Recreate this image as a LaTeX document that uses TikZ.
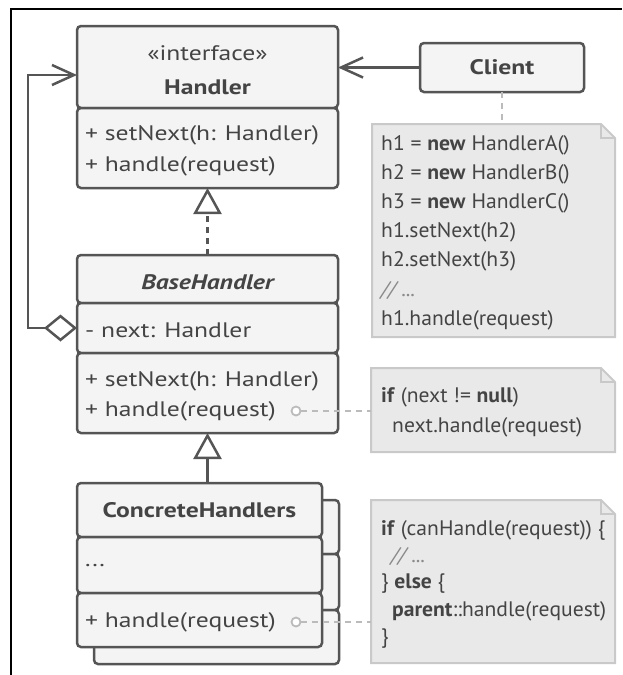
\documentclass[tikz,border=0pt]{standalone}
\usepackage{fontspec}
\setmainfont{PT Sans}[FakeStretch=1.22]
\newfontfamily\notefont[FakeStretch=1.03]{PT Sans}
\usetikzlibrary{arrows.meta}
\definecolor{ink}{HTML}{444444}
\definecolor{edge}{HTML}{555555}
\definecolor{boxfill}{HTML}{F4F4F4}
\definecolor{notefill}{HTML}{E9E9E9}
\definecolor{noteedge}{HTML}{C9C9C9}
\definecolor{dashc}{HTML}{BBBBBB}
\definecolor{commentc}{HTML}{8A8A8A}
\begin{document}
\begin{tikzpicture}[x=1pt,y=-1pt,
  comp/.style={draw=edge, fill=boxfill, line width=2.5pt, rounded corners=4pt,
    anchor=north west, inner sep=0pt, outer sep=0pt},
  lbl/.style={text=ink, inner sep=0pt, font=\fontsize{21}{25}\selectfont},
  lblb/.style={text=ink, inner sep=0pt, font=\fontsize{21}{25}\selectfont\bfseries},
  lbli/.style={text=ink, inner sep=0pt, font=\fontsize{21}{25}\selectfont\bfseries\itshape},
  notetxt/.style={text=ink, inner sep=0pt, anchor=west, font=\notefont\fontsize{21}{25}\selectfont},
  notebox/.style={draw=none, anchor=north west, inner sep=0pt, outer sep=0pt},
  noteshape/.style={draw=noteedge, fill=notefill, line width=2pt},
  link/.style={draw=edge, line width=2.5pt},
  realize/.style={link, dash pattern=on 6pt off 5pt, -{Triangle[open, fill=white, length=26pt, width=28pt]}},
  inherit/.style={link, -{Triangle[open, fill=white, length=26pt, width=28pt]}},
  assoc/.style={link, -{Straight Barb[length=22pt, width=20pt]}},
  aggr/.style={link, {Diamond[open, fill=white, length=33pt, width=27pt]}-{Straight Barb[length=22pt, width=20pt]}},
  notelink/.style={draw=dashc, line width=2pt, dash pattern=on 6pt off 5pt},
  pin/.style={circle, draw=dashc, fill=white, line width=1.8pt, minimum size=9pt, inner sep=0pt}
]
\useasboundingbox (0,0) rectangle (622,675);
% frame
\draw[line width=2pt, black] (11,675) -- (11,9) -- (622,9);

% Handler
\node[comp, minimum width=261pt, minimum height=82pt] (hT) at (77,26) {};
\node[comp, minimum width=261pt, minimum height=80pt] (hO) at (77,108) {};
\node[lbl] (hSt) at (207.5,53) {«interface»};
\node[lblb] (hNm) at (207.5,87) {Handler};
\node[lbl, anchor=west] (hM1) at (85,135) {+ setNext(h: Handler)};
\node[lbl, anchor=west] (hM2) at (85,166) {+ handle(request)};

% Client
\node[comp, minimum width=164pt, minimum height=49pt] (cl) at (420,43) {};
\node[lblb] (clN) at (502,67) {Client};

% BaseHandler
\node[comp, minimum width=261pt, minimum height=48pt] (bT) at (77,255) {};
\node[comp, minimum width=261pt, minimum height=50pt] (bF) at (77,303) {};
\node[comp, minimum width=261pt, minimum height=80pt] (bO) at (77,353) {};
\node[lbli] (bNm) at (207.5,282) {BaseHandler};
\node[lbl, anchor=west] (bF1) at (85,330) {- next: Handler};
\node[lbl, anchor=west] (bM1) at (85,381) {+ setNext(h: Handler)};
\node[lbl, anchor=west] (bM2) at (85,411) {+ handle(request)};

% ConcreteHandlers (back copy)
\node[comp, minimum width=245pt, minimum height=54pt] (kT2) at (94,500) {};
\node[comp, minimum width=245pt, minimum height=56pt] (kF2) at (94,554) {};
\node[comp, minimum width=245pt, minimum height=54pt] (kO2) at (94,610) {};
% ConcreteHandlers (front)
\node[comp, minimum width=245pt, minimum height=54pt] (kT) at (77,483) {};
\node[comp, minimum width=245pt, minimum height=56pt] (kF) at (77,537) {};
\node[comp, minimum width=245pt, minimum height=54pt] (kO) at (77,593) {};
\node[lblb] (kNm) at (199.5,510) {ConcreteHandlers};
\node[lbl, anchor=west] (kF1) at (85,566) {...};
\node[lbl, anchor=west] (kM1) at (85,622) {+ handle(request)};

% notes
\node[notebox, minimum width=243pt, minimum height=213pt] (n1) at (372,124) {};
\node[notebox, minimum width=244pt, minimum height=84pt] (n2) at (371,368) {};
\node[notebox, minimum width=244pt, minimum height=163pt] (n3) at (371,500) {};
\foreach \n in {n1,n2,n3}{
  \draw[noteshape] (\n.north west) -- ([xshift=-14pt]\n.north east) -- ([yshift=-14pt]\n.north east)
    -- (\n.south east) -- (\n.south west) -- cycle;
  \draw[noteshape, fill=none] ([xshift=-14pt]\n.north east) -- ([xshift=-14pt,yshift=-14pt]\n.north east)
    -- ([yshift=-14pt]\n.north east);
}
\node[notetxt] (t11) at (381,145) {h1 = \textbf{new} HandlerA()};
\node[notetxt] (t12) at (381,174) {h2 = \textbf{new} HandlerB()};
\node[notetxt] (t13) at (381,203) {h3 = \textbf{new} HandlerC()};
\node[notetxt] (t14) at (381,232) {h1.setNext(h2)};
\node[notetxt] (t15) at (381,261) {h2.setNext(h3)};
\node[notetxt, text=commentc] (t16) at (381,291) {\itshape // ...};
\node[notetxt] (t17) at (381,320) {h1.handle(request)};

\node[notetxt] (t21) at (381,397) {\textbf{if} (next != \textbf{null})};
\node[notetxt] (t22) at (392,427) {next.handle(request)};

\node[notetxt] (t31) at (381,530) {\textbf{if} (canHandle(request)) \{};
\node[notetxt, text=commentc] (t32) at (391,557) {\itshape // ...};
\node[notetxt] (t33) at (381,584) {\} \textbf{else} \{};
\node[notetxt] (t34) at (392,611) {\textbf{parent}::handle(request)};
\node[notetxt] (t35) at (381,639) {\}};

% connectors
\draw[assoc] (cl.west) -- (hT.east |- cl.west);
\draw[notelink] (cl.south) -- (cl.south |- n1.north);
\draw[realize] (bT.north) -- (hO.south);
\draw[inherit] (kT.north -| bO.south) -- (bO.south);
\coordinate (aggL) at (28,0);
\coordinate (hIn) at ([yshift=-8pt]hT.west);
\draw[aggr] (bF.west) -- (aggL |- bF.west) -- (aggL |- hIn) -- (hIn);

\node[pin] (p1) at (296,411) {};
\draw[notelink] (p1.east) -- (n2.west |- p1.east);
\node[pin] (p2) at (296,622) {};
\draw[notelink] (p2.east) -- (n3.west |- p2.east);
\end{tikzpicture}
\end{document}
